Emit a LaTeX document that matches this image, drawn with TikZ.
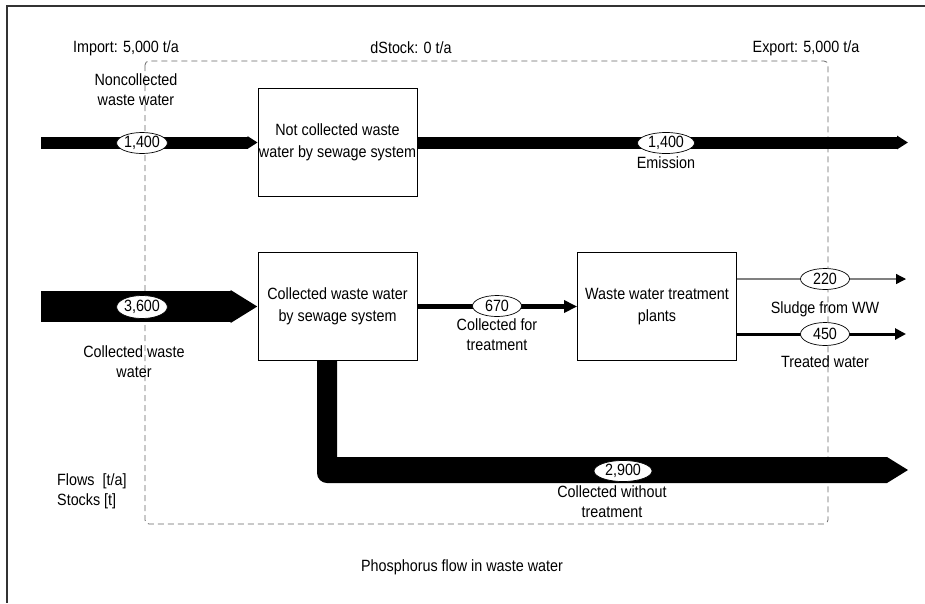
\documentclass[tikz,border=0pt]{standalone}
\usepackage{fontspec}
\setmainfont[FakeStretch=0.88]{Liberation Sans}
\usetikzlibrary{arrows.meta,shapes.geometric}
\begin{document}
\begin{tikzpicture}[x=1pt,y=-1pt,
  every node/.style={font=\fontsize{16.3}{20}\selectfont, inner sep=0pt, text=black},
  proc/.style={draw, line width=0.8pt, fill=white, minimum width=159pt, minimum height=108pt, align=center, font=\fontsize{16.3}{21.5}\selectfont},
  val/.style={ellipse, draw, line width=0.7pt, fill=white, minimum width=49pt, minimum height=21pt},
  lbl/.style={align=center},
  boundary/.style={draw=black!60, line width=0.8pt, dash pattern=on 6pt off 4pt, rounded corners=4pt},
  flowA/.style={line width=12pt, -{Triangle[length=10pt,width=12pt]}},
  flowB/.style={line width=31pt, -{Triangle[length=27pt,width=31pt]}},
  flowC/.style={line width=5pt, -{Triangle[length=13pt,width=12pt]}},
  flowD/.style={draw=black!50, line width=1.3pt, -{Triangle[length=10pt,width=10pt,fill=black,color=black]}},
  flowE/.style={line width=3pt, -{Triangle[length=11pt,width=11pt]}}
]
\useasboundingbox (0,0) rectangle (925,603);
% frame
\draw[line width=1.2pt, black!80] (925,6) -- (7,6) -- (7,603);
% system boundary
\draw[boundary] (145,61) rectangle (828,524);

% processes
\node[proc] (box1) at (337.5,142.5) {Not collected waste\\water by sewage system};
\node[proc] (box2) at (337.5,306.5) {Collected waste water\\by sewage system};
\node[proc] (wwtp) at (657,306.5) {Waste water treatment\\plants};

% free ends
\coordinate (in1) at (41,142.5);
\coordinate (out1) at (908,142.5);
\coordinate (in2) at (41,306.5);
\coordinate (o220) at (906,279);
\coordinate (o450) at (906,334);
\coordinate (o290) at (908,470);

% flows
\draw[flowA] (in1) -- (box1.west);
\draw[flowA, -{Triangle[length=11pt,width=13pt]}] (box1.east) -- (out1);
\draw[flowB] (in2) -- (box2.west);
\draw[flowC] (box2.east) -- (wwtp.west);
\draw[flowD] (wwtp.east |- o220) -- (o220);
\draw[flowE] (wwtp.east |- o450) -- (o450);
\fill (317,361) -- (317,473) .. controls (317,478.5) and (321.5,483) .. (327,483)
  -- (887,483) -- (o290) -- (887,457) -- (337,457) -- (337,361) -- cycle;
\node[proc] at (box2) {Collected waste water\\by sewage system};

% values
\node[val] (v1) at (142,143) {1,400};
\node[val, minimum width=57pt] (v2) at (666,143) {1,400};
\node[val, minimum height=23pt] (v3) at (142,307) {3,600};
\node[val] (v4) at (497,306) {670};
\node[val] (v5) at (825,279) {220};
\node[val, minimum height=23pt] (v6) at (825,334) {450};
\node[val, minimum width=58pt] (v7) at (623,471) {2,900};

% labels
\node (imp) at (126,48) {Import: 5,000 t/a};
\node (dst) at (411,48) {dStock: 0 t/a};
\node (exp) at (806,48) {Export: 5,000 t/a};
\node[lbl] (ncw) at (136,90) {Noncollected\\waste water};
\node[lbl] (cww) at (134,362) {Collected waste\\water};
\node (em) at (666,163) {Emission};
\node[lbl] (cft) at (497,335) {Collected for\\treatment};
\node (sl) at (825,309) {Sludge from WW};
\node (tw) at (825,362) {Treated water};
\node[lbl] (cwt) at (612,502) {Collected without\\treatment};
\node[align=left, anchor=west] (fs) at (57,491) {Flows\ \ [t/a]\\Stocks [t]};
\node (title) at (462,567) {Phosphorus flow in waste water};
\end{tikzpicture}
\end{document}
